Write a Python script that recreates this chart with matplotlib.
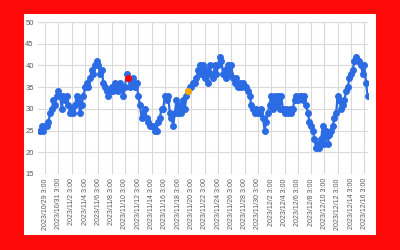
import numpy as np
import matplotlib.pyplot as plt
from datetime import datetime, timedelta

# data: one reading every 6 hours starting 2023/10/28 9:00
start = datetime(2023, 10, 28, 9, 0)
step_h = 6
values = [
    25, 26, 25, 26, 26, 27, 29, 30, 32, 31,
    33, 34, 33, 30, 33, 32, 33, 31, 29, 30,
    29, 31, 33, 32, 29, 31, 33, 35, 36, 35,
    37, 39, 38, 40, 41, 40, 38, 39, 36, 35,
    34, 33, 34, 35, 34, 36, 35, 34, 36, 35,
    33, 35, 38, 37, 35, 36, 37, 35, 36, 33,
    31, 28, 29, 30, 28, 27, 26, 26, 26, 25,
    25, 27, 28, 30, 30, 33, 32, 33, 29, 28,
    26, 29, 32, 29, 31, 29, 32, 30, 33, 34,
    35, 35, 36, 36, 37, 39, 40, 38, 40, 37,
    39, 36, 40, 38, 37, 40, 38, 40, 42, 41,
    38, 39, 37, 40, 38, 40, 37, 36, 37, 35,
    36, 35, 36, 35, 35, 34, 33, 31, 30, 29,
    30, 29, 29, 30, 28, 25, 27, 29, 31, 33,
    30, 33, 31, 33, 30, 33, 30, 29, 30, 29,
    30, 29, 30, 32, 33, 32, 33, 33, 32, 33,
    31, 29, 27, 26, 25, 23, 21, 22, 21, 23,
    26, 22, 25, 22, 24, 25, 26, 28, 29, 33,
    32, 30, 31, 32, 34, 35, 37, 38, 39, 41,
    42, 41, 41, 40, 38, 40, 36, 33,
]
red_idx = 53      # highlighted point (red)
orange_idx = 89   # highlighted point (orange)

x = np.arange(len(values))
times = [start + timedelta(hours=step_h * int(i)) for i in x]

# ticks every 2 days at 3:00
first = datetime(2023, 10, 29, 3)
tick_idx = [i for i, t in enumerate(times) if t >= first and t.hour == 3 and (t - first).days % 2 == 0]
tick_labels = [f"{t.year}/{t.month}/{t.day} {t.hour}:{t.minute:02d}" for t in [times[i] for i in tick_idx]]

fig = plt.figure(figsize=(4, 2.5), dpi=100, facecolor='#ff0a0a')
panel = fig.add_axes([0.06, 0.06, 0.88, 0.884])
panel.set_facecolor('white')
panel.set_xticks([]); panel.set_yticks([])
for s in panel.spines.values():
    s.set_visible(False)

ax = fig.add_axes([0.095, 0.304, 0.825, 0.608])
ax.set_facecolor('white')
ax.plot(x, values, '-o', color='#2b6be4', lw=1.6, ms=4.0, zorder=3)
ax.plot(x[red_idx], values[red_idx], 'o', color='#ff0000', ms=4.0, zorder=4)
ax.plot(x[orange_idx], values[orange_idx], 'o', color='#ffaa00', ms=4.0, zorder=4)

ax.set_xlim(-1.3, 197.2)
ax.set_ylim(15, 50)
ax.set_yticks(range(15, 51, 5))
ax.set_xticks(tick_idx)
ax.set_xticklabels(tick_labels, rotation=90, fontsize=5, family='Liberation Sans', color='#595959')
for lab in ax.get_yticklabels():
    lab.set_fontsize(5.5); lab.set_family('Liberation Sans'); lab.set_color('#595959')
ax.tick_params(length=0, pad=3)
ax.grid(True, color='#d9d9d9', lw=0.8)
ax.set_axisbelow(True)
for s in ax.spines.values():
    s.set_visible(False)

fig.savefig('out.png', dpi=100, facecolor=fig.get_facecolor())
